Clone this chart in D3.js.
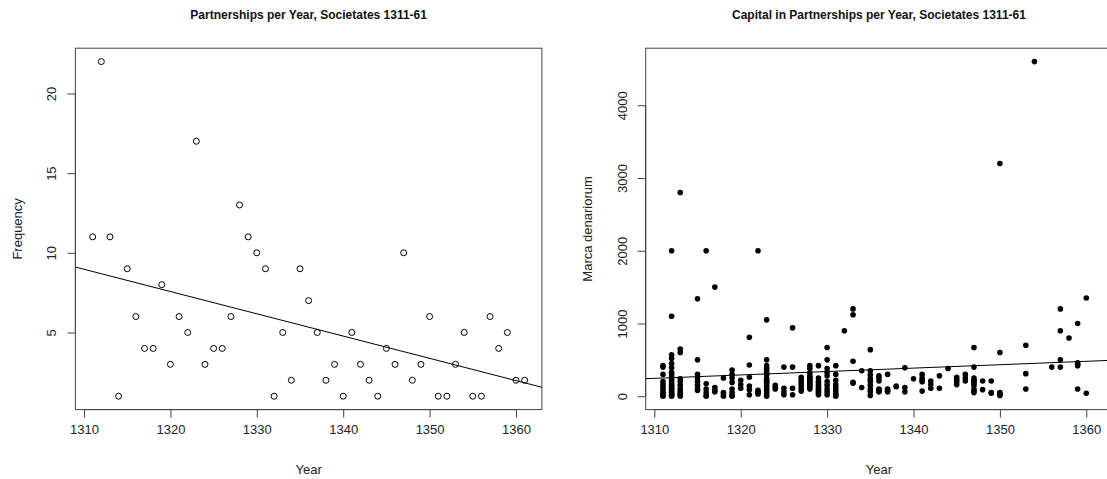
<!DOCTYPE html>
<html>
<head>
<meta charset="utf-8">
<script src="https://cdn.jsdelivr.net/npm/d3@7"></script>
<style>
  html, body { margin: 0; padding: 0; background: #fff; }
  svg { display: block; font-family: Arial, "Liberation Sans", sans-serif; }
</style>
</head>
<body>
<svg id="chart" width="1107" height="479"></svg>
<script>
// ---------- data ----------
const freqYears = d3.range(1311, 1362);
const freqValues = [11, 22, 11, 1, 9, 6, 4, 4, 8, 3,
                    6, 5, 17, 3, 4, 4, 6, 13, 11, 10,
                    9, 1, 5, 2, 9, 7, 5, 2, 3, 1,
                    5, 3, 2, 1, 4, 3, 10, 2, 3, 6,
                    1, 1, 3, 5, 1, 1, 6, 4, 5, 2, 2];

const capitalYears = [1311, 1312, 1313, 1315, 1316, 1317, 1318, 1319, 1320, 1321,
                      1322, 1323, 1324, 1325, 1326, 1327, 1328, 1329, 1330, 1331,
                      1332, 1333, 1334, 1335, 1336, 1337, 1338, 1339, 1340, 1341,
                      1342, 1343, 1344, 1345, 1346, 1347, 1348, 1349, 1350, 1353,
                      1354, 1356, 1357, 1358, 1359, 1360];
const capitalValues = [
  [420, 400, 300, 200, 160, 120, 100, 60, 40, 10, 0],
  [2000, 1100, 570, 520, 450, 390, 330, 300, 260, 230, 200, 170, 150, 130, 110, 90, 70, 50, 30, 20, 10, 0],
  [2800, 650, 600, 240, 200, 150, 100, 70, 40, 20, 0],
  [1340, 500, 300, 250, 200, 150, 100, 80],
  [2000, 170, 100, 50, 10, 0],
  [1500, 120, 80, 60],
  [250, 50, 20, 0],
  [360, 300, 250, 190, 100, 50, 20, 0],
  [220, 160, 110],
  [810, 430, 260, 140, 90, 20],
  [2000, 80, 60, 50, 30],
  [1050, 500, 420, 380, 350, 320, 300, 250, 220, 200, 180, 150, 120, 90, 60, 30, 0],
  [150, 120, 100],
  [400, 110, 60, 20],
  [940, 400, 110, 20],
  [260, 220, 180, 150, 110, 70],
  [420, 380, 320, 280, 260, 240, 220, 200, 180, 160, 140, 120, 100],
  [420, 250, 200, 180, 150, 120, 100, 80, 60, 40, 20],
  [670, 500, 380, 330, 280, 200, 150, 100, 60, 20],
  [420, 300, 220, 160, 120, 80, 40, 20, 0],
  [900],
  [1200, 1120, 480, 190, 180],
  [350, 120],
  [640, 350, 290, 240, 200, 150, 100, 60, 10],
  [280, 250, 210, 100, 90, 70, 60],
  [300, 100, 90, 70, 60],
  [140, 130],
  [390, 120, 60],
  [240],
  [300, 250, 220, 200, 70],
  [210, 160, 110],
  [280, 110],
  [380],
  [260, 230, 200, 160],
  [300, 250, 210],
  [670, 400, 250, 220, 200, 180, 150, 100, 70, 50],
  [210, 90],
  [210, 50, 40],
  [3200, 600, 50, 40, 20, 10],
  [700, 310, 100],
  [4600],
  [400],
  [1200, 900, 500, 400],
  [800],
  [1000, 460, 440, 420, 100],
  [1350, 40]
];
// fitted trend of capital on year (value at 1309 and 1363)
const capitalTrendYears = [1309, 1363];
const capitalTrendValues = [241, 494];

const xTicks = [1310, 1320, 1330, 1340, 1350, 1360];
const freqTicks = [5, 10, 15, 20];
const capitalTicks = [0, 1000, 2000, 3000, 4000];

const titles = ["Partnerships per Year, Societates 1311-61",
                "Capital in Partnerships per Year, Societates 1311-61"];
const yTitles = ["Frequency", "Marca denariorum"];
const xTitle = "Year";

// ---------- layout ----------
const svg = d3.select("#chart");
const panelOffset = 570.3;
const plotLeft = 75.4, plotWidth = 466.5, plotTop = 48.2, plotBottom = 409.6;
const axisColor = "#444";

function panel(i, yDomain, yTicks) {
  const ox = i * panelOffset;
  const g = svg.append("g");
  const x = d3.scaleLinear().domain([1309, 1363]).range([ox + plotLeft, ox + plotLeft + plotWidth]);
  const y = d3.scaleLinear().domain(yDomain).range([plotBottom, plotTop]);

  // box
  g.append("rect")
    .attr("x", x.range()[0]).attr("y", plotTop)
    .attr("width", plotWidth).attr("height", plotBottom - plotTop)
    .attr("fill", "none").attr("stroke", axisColor).attr("stroke-width", 1);

  // x axis
  const xa = g.append("g").attr("transform", `translate(0,${plotBottom})`)
    .call(d3.axisBottom(x).tickValues(xTicks).tickFormat(d3.format("d")).tickSize(8).tickPadding(7));
  xa.select(".domain").attr("d", `M${x(xTicks[0])},0H${x(xTicks[xTicks.length-1])}`).attr("stroke", axisColor);
  xa.selectAll(".tick line").attr("stroke", axisColor);
  xa.selectAll(".tick text").attr("font-size", 13).attr("fill", "#222")
    .attr("font-family", "Arial, 'Liberation Sans', sans-serif");

  // y axis
  const ya = g.append("g").attr("transform", `translate(${x.range()[0]},0)`)
    .call(d3.axisLeft(y).tickValues(yTicks).tickFormat(d3.format("d")).tickSize(8));
  ya.select(".domain").attr("d", `M0,${y(yTicks[0])}V${y(yTicks[yTicks.length-1])}`).attr("stroke", axisColor);
  ya.selectAll(".tick line").attr("stroke", axisColor);
  ya.selectAll(".tick text")
    .attr("font-size", 13).attr("fill", "#222")
    .attr("font-family", "Arial, 'Liberation Sans', sans-serif")
    .attr("x", null).attr("dy", null)
    .attr("text-anchor", "middle")
    .attr("transform", "translate(-19,0) rotate(-90)")
    .attr("dy", "0.0em");

  // titles
  svg.append("text")
    .attr("x", (x.range()[0] + ox + plotLeft + plotWidth) / 2).attr("y", 19)
    .attr("text-anchor", "middle").attr("font-weight", "bold").attr("font-size", 12)
    .attr("fill", "#111").text(titles[i]);
  svg.append("text")
    .attr("x", x.range()[0] + plotWidth / 2).attr("y", 474)
    .attr("text-anchor", "middle").attr("font-size", 13).attr("fill", "#222").text(xTitle);
  svg.append("text")
    .attr("transform", `translate(${ox + 22},${(plotTop + plotBottom) / 2}) rotate(-90)`)
    .attr("text-anchor", "middle").attr("font-size", 13).attr("fill", "#222").text(yTitles[i]);

  return { g, x, y };
}

// ---------- left panel ----------
const L = panel(0, [0.16, 22.84], freqTicks);
const freqData = freqYears.map((yr, k) => ({ year: yr, value: freqValues[k] }));
// least-squares trend
const mx = d3.mean(freqData, d => d.year), my = d3.mean(freqData, d => d.value);
const slope = d3.sum(freqData, d => (d.year - mx) * (d.value - my)) / d3.sum(freqData, d => (d.year - mx) ** 2);
const icpt = my - slope * mx;
const xd = L.x.domain();
L.g.append("line")
  .attr("x1", L.x(xd[0])).attr("y1", L.y(icpt + slope * xd[0]))
  .attr("x2", L.x(xd[1])).attr("y2", L.y(icpt + slope * xd[1]))
  .attr("stroke", "#000").attr("stroke-width", 1);
L.g.selectAll("circle.f").data(freqData).join("circle")
  .attr("class", "f")
  .attr("cx", d => L.x(d.year)).attr("cy", d => L.y(d.value)).attr("r", 3)
  .attr("fill", "none").attr("stroke", "#000").attr("stroke-width", 1);

// ---------- right panel ----------
const R = panel(1, [-184, 4784], capitalTicks);
const capData = [];
capitalYears.forEach((yr, k) => capitalValues[k].forEach(v => capData.push({ year: yr, value: v })));
R.g.append("line")
  .attr("x1", R.x(capitalTrendYears[0])).attr("y1", R.y(capitalTrendValues[0]))
  .attr("x2", R.x(capitalTrendYears[1])).attr("y2", R.y(capitalTrendValues[1]))
  .attr("stroke", "#000").attr("stroke-width", 1);
R.g.selectAll("circle.c").data(capData).join("circle")
  .attr("class", "c")
  .attr("cx", d => R.x(d.year)).attr("cy", d => R.y(d.value)).attr("r", 2.8)
  .attr("fill", "#000");
</script>
</body>
</html>
